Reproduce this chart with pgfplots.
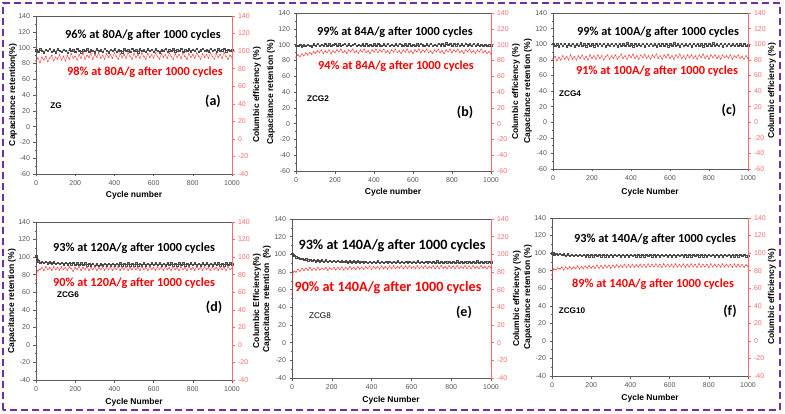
\documentclass[border=0pt]{standalone}
\usepackage{pgfplots}
\pgfplotsset{compat=1.18}
\usepackage{pgfplotstable}
\usepackage{fontspec}
\setmainfont{Liberation Sans}
\newfontfamily\calib{Carlito}
\definecolor{axgray}{HTML}{5A5A5A}
\definecolor{lblgray}{HTML}{555555}
\definecolor{axred}{HTML}{FF6A6A}
\definecolor{datblk}{HTML}{4A4A4A}
\definecolor{datred}{HTML}{FF3838}
\definecolor{bordpur}{HTML}{7030A0}

\pgfplotstableread{
x cap ce
0 97 89
10 95 92
20 98 87
30 96 93
40 94.5 90
50 97.5 94
60 96 88
70 98.5 92
80 95 95
90 97 89
100 94.5 93
110 98 91
120 96 96
130 95 90
140 97.5 94
150 96.5 89
160 94 95
170 98 91
180 96 97
190 97 92
200 95 94
210 98.5 90
220 96 96
230 94.5 92
240 97 98
250 96 91
260 98 95
270 95 93
280 97 97
290 96.5 91
300 94.5 96
310 98 93
320 96 98
330 97 92
340 95 95
350 98.5 91
360 96 97
370 94.5 93
380 97.5 96
390 96 92
400 98 98
410 95 94
420 97 91
430 96 97
440 94.5 93
450 98 96
460 96.5 92
470 97 98
480 95 94
490 98.5 91
500 96 97
510 97 93
520 94.5 96
530 98 92
540 96 98
550 97 94
560 95 91
570 98 97
580 96 93
590 97.5 96
600 95 92
610 98 98
620 96.5 94
630 94.5 91
640 97 97
650 96 93
660 98.5 96
670 95 92
680 97 98
690 96 94
700 98 91
710 95.5 97
720 97 93
730 96 96
740 98.5 92
750 95 98
760 97 94
770 96 91
780 98 97
790 95.5 93
800 97.5 96
810 96 92
820 99 98
830 95 94
840 97 91
850 98.5 97
860 96 93
870 97 96
880 95.5 92
890 98.5 98
900 96 94
910 97.5 91
920 95 97
930 98 93
940 96.5 96
950 97 92
960 99 98
970 95.5 94
980 97.5 91
990 96 95
1000 97 93
}\tabA

\pgfplotstableread{
x cap ce
0 99 84
10 98.5 87
20 100 85
30 98 88
40 99.5 86
50 98.5 89
60 100 87
70 99 90
80 98 88
90 100.5 91
100 99 89
110 101 92
120 98.5 90
130 100 93
140 99 89
150 101.5 92
160 99 90
170 100.5 93
180 98.5 89
190 100 92
200 101 90
210 99 93
220 100.5 91
230 98.5 94
240 100 90
250 101 92
260 99 89
270 100.5 93
280 98.5 91
290 100 94
300 101 90
310 99 92
320 100 89
330 98.5 93
340 100.5 91
350 99 94
360 101 90
370 99 92
380 100 89
390 98.5 93
400 100.5 91
410 99 94
420 101 90
430 99.5 93
440 98.5 91
450 100.5 94
460 99 90
470 101 92
480 99 89
490 100 93
500 98.5 91
510 100.5 94
520 99 90
530 101 92
540 99.5 89
550 98.5 93
560 100.5 91
570 99 94
580 101 90
590 99 92
600 100 89
610 98.5 93
620 100.5 91
630 99 94
640 101 90
650 99.5 93
660 98.5 91
670 100.5 94
680 99 90
690 101 92
700 99 89
710 100 93
720 98.5 91
730 101 94
740 99.5 90
750 101.5 92
760 99 89
770 102 93
780 100 91
790 101.5 94
800 99 90
810 101 93
820 99.5 91
830 101.5 94
840 99 90
850 100.5 92
860 99 89
870 101 93
880 99.5 91
890 100.5 94
900 99 90
910 101 92
920 99 89
930 100.5 93
940 99 91
950 100 94
960 98.5 90
970 100 92
980 99 89
990 99.5 91
1000 99 88
}\tabB

\pgfplotstableread{
x cap ce
0 101 81
10 98 84
20 100 79
30 97.5 83
40 100.5 80
50 98 85
60 101 81
70 97.5 84
80 100 80
90 98.5 86
100 101 81
110 97.5 84
120 100 80
130 98 85
140 101.5 82
150 98 86
160 100 81
170 97.5 84
180 101 80
190 98.5 86
200 100 82
210 97.5 85
220 101 81
230 98 86
240 100.5 82
250 98 85
260 101 80
270 97.5 84
280 100 86
290 98.5 81
300 101 85
310 98 82
320 100.5 86
330 97.5 81
340 101 84
350 98.5 87
360 100 82
370 98 85
380 101.5 81
390 98 86
400 100 83
410 97.5 87
420 101 82
430 98.5 85
440 100 81
450 98 86
460 101 83
470 97.5 87
480 100.5 82
490 98 85
500 101 81
510 98.5 86
520 100 83
530 97.5 87
540 101 82
550 98 85
560 100.5 81
570 98 86
580 101 83
590 97.5 87
600 100 82
610 98.5 85
620 101.5 81
630 98 86
640 100 83
650 97.5 87
660 101 82
670 98.5 85
680 100 81
690 98 86
700 101 83
710 97.5 86
720 100.5 82
730 98 85
740 101 81
750 98.5 86
760 100 83
770 97.5 87
780 101 82
790 98 85
800 100.5 81
810 98 86
820 101.5 83
830 98.5 86
840 100 82
850 98 85
860 101 81
870 97.5 86
880 100.5 83
890 98 85
900 101 82
910 98.5 86
920 100 81
930 98 85
940 101 83
950 98.5 86
960 100 82
970 98 84
980 101 81
990 98.5 85
1000 99 82
}\tabC

\pgfplotstableread{
x cap ce
0 101 74
2 99 80
5 97.5 83
10 95.5 85
20 94 86
30 95 88
40 93.5 85
50 95 89
60 93 86
70 94.5 88
80 93 85
90 94.5 89
100 92.5 86
110 94 88
120 92.5 85
130 94 89
140 92 86
150 93.5 88
160 92 85
170 93.5 89
180 92 87
190 93.5 84
200 91.5 88
210 93 86
220 91.5 89
230 93 85
240 91.5 88
250 93 86
260 91 89
270 92.5 85
280 91 88
290 92.5 86
300 90.5 89
310 92 85
320 90.5 88
330 92 86
340 91 89
350 92.5 85
360 91 88
370 92.5 86
380 91 89
390 92.5 85
400 91 88
410 92.5 86
420 91 89
430 93 85
440 91 88
450 92.5 86
460 91 89
470 93 85
480 91 88
490 92.5 86
500 91 89
510 93 86
520 91 88
530 92.5 85
540 91 89
550 93 86
560 91 88
570 92.5 85
580 91 89
590 93 86
600 91.5 88
610 93 85
620 91.5 89
630 93 86
640 91 88
650 92.5 85
660 91 89
670 93 86
680 91.5 88
690 93 85
700 91 89
710 92.5 86
720 91 88
730 93 85
740 91.5 89
750 93 86
760 91 88
770 92.5 85
780 91 89
790 93 86
800 91.5 88
810 93 85
820 91 89
830 92.5 86
840 91 88
850 93 85
860 91.5 89
870 93 86
880 91 88
890 92.5 85
900 91 89
910 93 86
920 91.5 88
930 93 85
940 91 89
950 92.5 86
960 91 88
970 93 85
980 91.5 89
990 93 86
1000 92 87
}\tabD

\pgfplotstableread{
x cap ce
0 101 55
2 100 76
5 99 79
10 98.5 81
20 97 80
30 96.5 83
40 95 81
50 95.5 84
60 94 82
70 94.5 84
80 93.5 82
90 94 85
100 93 82
110 94 84
120 92.5 82
130 93.5 85
140 92.5 82.5
150 93.5 84
160 92 83
170 93.5 85
180 92 82
190 93 84.5
200 92 83
210 93 85
220 91.5 82.5
230 93 85
240 91.5 83
250 92.5 85.5
260 91.5 82.5
270 92.5 85
280 91 83
290 92.5 86
300 91 83.5
310 92.5 85
320 91 83
330 92.5 86
340 91 83.5
350 92 85.5
360 91 83
370 92 86
380 90.5 84
390 92 86.5
400 90.5 83
410 92 86
420 90.5 84
430 92.5 86
440 90.5 83.5
450 92 86.5
460 90.5 84
470 92 86
480 91 83.5
490 92 86.5
500 90.5 84
510 92 87
520 90.5 84
530 92.5 86
540 90.5 84.5
550 92 87
560 90.5 84
570 92 86.5
580 91 84
590 92 87
600 90.5 84.5
610 92 86
620 90.5 84
630 92.5 87
640 90.5 84
650 92 86.5
660 90.5 84.5
670 92 87
680 91 84
690 92 86
700 90.5 84.5
710 92 87
720 90.5 84
730 92.5 86.5
740 90.5 84
750 92 87
760 90.5 84.5
770 92 86
780 91 84
790 92 87
800 90.5 84.5
810 92 86.5
820 90.5 84
830 92.5 87
840 90.5 84
850 92 86
860 90.5 84.5
870 92 87
880 91 84
890 92 86.5
900 90.5 84
910 92 87
920 90.5 84.5
930 92.5 86
940 90.5 84
950 92 87
960 90.5 84.5
970 92 86
980 91 84
990 92 86.5
1000 91 85
}\tabE

\pgfplotstableread{
x cap ce
0 100 75
2 99.5 79
5 100 81
10 98.5 82
20 99.5 81
30 98 83
40 99.5 82
50 98 84
60 99 81
70 97.5 84
80 99 82
90 97.5 84.5
100 98.5 82
110 97 84
120 98.5 82.5
130 97 85
140 98.5 82
150 97 84.5
160 98 82.5
170 96.5 85
180 98 83
190 96.5 85.5
200 98 83
210 96.5 85
220 98 83
230 97 86
240 98.5 83
250 96.5 85.5
260 98 83
270 96.5 86
280 98 83.5
290 96.5 86
300 98 83
310 96.5 86
320 98 84
330 97 86.5
340 98.5 84
350 96.5 86
360 98 84
370 96.5 87
380 98 84
390 96.5 86.5
400 98 84
410 97 87
420 98.5 84
430 96.5 86.5
440 98 84.5
450 96.5 87
460 98 84.5
470 96.5 87
480 98 84
490 97 87.5
500 98.5 84.5
510 96.5 87
520 98 84.5
530 96.5 87.5
540 98 84.5
550 96.5 87
560 98 84
570 97 87.5
580 98.5 84.5
590 96.5 87
600 98 84.5
610 96.5 87
620 98 84
630 96.5 87.5
640 98 84.5
650 97 87
660 98.5 84.5
670 96.5 87.5
680 98 84
690 96.5 87
700 98 84.5
710 96.5 87.5
720 98 84.5
730 97 87
740 98.5 84
750 96.5 87.5
760 98 84.5
770 96.5 87
780 98 84.5
790 96.5 87
800 98 84
810 97 87.5
820 98.5 84.5
830 96.5 87
840 98 84.5
850 96.5 87
860 98 84
870 96.5 87.5
880 98 84.5
890 97 87
900 98.5 84.5
910 96.5 87
920 98 84
930 96.5 87.5
940 98 84.5
950 96.5 87
960 98 84.5
970 97 87
980 98.5 84
990 96.5 86.5
1000 97.5 85
}\tabF

\pgfplotsset{
  leftax/.style={scale only axis, anchor=south west,
    xmin=0, xmax=1000, ymax=140,
    xtick={0,200,...,1000}, ytick distance=20,
    minor x tick num=1, minor y tick num=1,
    tick align=outside, xtick pos=bottom, ytick pos=left,
    axis line style={draw=axgray, line width=0.6pt},
    tick style={draw=axgray, line width=0.5pt},
    major tick length=2.5pt, minor tick length=1.4pt,
    tick label style={font=\fontsize{7}{8}\selectfont, text=lblgray},
    xticklabel style={yshift=-0.3pt},
    /pgf/number format/1000 sep={},
    /pgf/number format/assume math mode=true},
  rightax/.style={scale only axis, anchor=south west,
    xmin=0, xmax=1000, ymax=140,
    axis x line=none, axis y line*=right, ytick distance=20,
    minor y tick num=1, tick align=outside,
    axis line style={draw=axred, line width=0.6pt},
    tick style={draw=axred, line width=0.5pt},
    major tick length=2.5pt, minor tick length=1.4pt,
    tick label style={font=\fontsize{7}{8}\selectfont, text=axred},
    /pgf/number format/1000 sep={},
    /pgf/number format/assume math mode=true},
  blk/.style={draw=datblk, line width=0.3pt, mark=square, mark size=0.7pt,
    mark options={line width=0.2pt}},
  rd/.style={draw=datred, line width=0.3pt, mark=o, mark size=0.7pt,
    mark options={line width=0.2pt}},
}

\newcommand{\panel}[7]{%
  \begin{axis}[leftax, at={(#1pt,#2pt)}, width=#3pt, height=#4pt, ymin=#5]
    \addplot[blk] table[x=x,y=cap]{#7};
  \end{axis}
  \begin{axis}[rightax, at={(#1pt,#2pt)}, width=#3pt, height=#4pt, ymin=#6]
    \addplot[rd] table[x=x,y=ce]{#7};
  \end{axis}}

\tikzset{
  alab/.style={font=\bfseries\fontsize{8.5}{9}\selectfont, inner sep=0pt},
  ylab/.style={alab, rotate=90},
  ann/.style={font=\calib\bfseries\fontsize{12.3}{14}\selectfont, inner sep=0pt},
  annE/.style={font=\calib\bfseries\fontsize{14.2}{16}\selectfont, inner sep=0pt},
  letter/.style={font=\calib\bfseries\fontsize{14}{16}\selectfont, inner sep=0pt},
  sname/.style={font=\bfseries\fontsize{8.2}{9}\selectfont, inner sep=0pt},
}

\begin{document}
\begin{tikzpicture}
\useasboundingbox (0,0) rectangle (785pt,413pt);

% panels: x, y(bottom), width, height, ymin left, ymin right, table
\panel{36}{239}{196}{158}{-60}{-40}{\tabA}
\panel{296}{242}{195}{158}{-60}{-60}{\tabB}
\panel{553}{244}{195}{156}{-60}{-60}{\tabC}
\panel{36}{33}{196}{158}{-40}{-40}{\tabD}
\panel{292}{35}{199}{159}{-40}{-40}{\tabE}
\panel{552}{37}{196}{158}{-40}{-40}{\tabF}

% axis labels
\node[ylab] at (13pt,318pt) {Capacitance retention(\%)};
\node[ylab] at (257pt,318pt) {Columbic efficiency (\%)};
\node[alab] at (134pt,218pt) {Cycle number};

\node[ylab] at (271pt,321pt) {Capacitance retention (\%)};
\node[ylab] at (516pt,321pt) {Columbic efficiency (\%)};
\node[alab] at (393pt,221pt) {Cycle number};

\node[ylab] at (528pt,322pt) {Capacitance retention (\%)};
\node[ylab] at (772pt,322pt) {Columbic efficiency (\%)};
\node[alab] at (650pt,221pt) {Cycle Number};

\node[ylab] at (12pt,112pt) {Capacitance retention (\%)};
\node[ylab] at (257pt,112pt) {Columbic Efficiency(\%)};
\node[alab] at (134pt,11pt) {Cycle Number};

\node[ylab] at (267pt,114pt) {Capacitance retention\ \ (\%)};
\node[ylab] at (517pt,114pt) {Columbic efficiency (\%)};
\node[alab] at (391pt,13pt) {Cycle Number};

\node[ylab] at (528pt,116pt) {Capacitance retention (\%)};
\node[ylab] at (772pt,116pt) {Columbic efficiency (\%)};
\node[alab] at (650pt,15pt) {Cycle Number};

% annotations
\node[ann] at (143pt,378pt) {96\% at 80A/g after 1000 cycles};
\node[ann,text=red] at (145pt,341pt) {98\% at 80A/g after 1000 cycles};
\node[letter] at (213pt,312pt) {(a)};
\node[sname] at (56pt,307pt) {ZG};

\node[ann] at (395pt,381pt) {99\% at 84A/g after 1000 cycles};
\node[ann,text=red] at (396pt,347pt) {94\% at 84A/g after 1000 cycles};
\node[letter] at (465pt,301pt) {(b)};
\node[sname] at (318pt,314pt) {ZCG2};

\node[ann] at (658pt,381pt) {99\% at 100A/g after 1000 cycles};
\node[ann,text=red] at (657pt,342pt) {91\% at 100A/g after 1000 cycles};
\node[letter] at (729pt,303pt) {(c)};
\node[sname] at (570pt,319pt) {ZCG4};

\node[ann] at (134pt,165pt) {93\% at 120A/g after 1000 cycles};
\node[ann,text=red] at (134pt,130pt) {90\% at 120A/g after 1000 cycles};
\node[letter] at (214pt,106pt) {(d)};
\node[sname] at (68pt,118pt) {ZCG6};

\node[annE] at (392pt,167pt) {93\% at 140A/g after 1000 cycles};
\node[annE,text=red] at (388pt,125pt) {90\% at 140A/g after 1000 cycles};
\node[letter] at (464pt,101pt) {(e)};
\node[sname,font=\fontsize{8.2}{9}\selectfont] at (320pt,97pt) {ZCG8};

\node[ann] at (655pt,174pt) {93\% at 140A/g after 1000 cycles};
\node[ann,text=red] at (653pt,129pt) {89\% at 140A/g after 1000 cycles};
\node[letter] at (730pt,102pt) {(f)};
\node[sname] at (572pt,102pt) {ZCG10};

% border
\draw[bordpur, line width=1.8pt, dash pattern=on 7pt off 4pt] (3pt,3pt) rectangle (780pt,410pt);
\end{tikzpicture}
\end{document}
